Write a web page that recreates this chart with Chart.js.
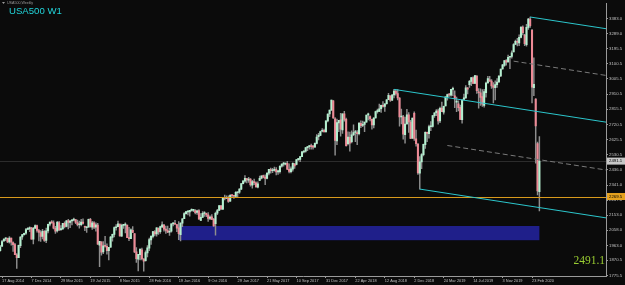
<!DOCTYPE html>
<html><head><meta charset="utf-8">
<script src="https://cdn.jsdelivr.net/npm/chart.js@4.4.1/dist/chart.umd.min.js"></script>
<style>html,body{margin:0;padding:0;background:#0b0b0b;overflow:hidden}</style>
</head><body>
<canvas id="c" width="625" height="285"></canvas>
<script>
// Weekly bars, index 0 = week of 10 Aug 2014, index 293 = week of 22 Mar 2020
const opens = [1931,1958,1991,2004,2007,1985,2009,1981,1968,1905,1887,1962,2017,2031,2040,2064,2066,2074,2002,2071,2088,
2056,2043,2020,2052,1994,2054,2096,2109,2104,2071,2054,2107,2062,2066,2101,2082,2117,2108,2116,2122,2125,2107,2093,2093,2110,2083,2074,2078,2127,2078,2104,2077,2090,1965,1986,1922,1960,1958,1930,1953,2014,2032,2074,2080,2097,2022,2089,2090,2091,2011,2006,2058,
2038,1923,1878,1906,1936,1878,1868,1917,1946,1998,2020,2048,2035,2071,2049,2079,2091,2065,2056,2046,2052,2098,2099,2094,2074,2030,2102,2131,2162,2173,2173,2183,2183,2182,2170,2181,2120,2139,2163,2165,2155,2132,2142,2127,2100,2165,2183,2211,2190,2259,2258,2264,
2240,2276,2272,2270,2293,2297,2316,2350,2366,2382,2372,2378,2340,2362,2355,2328,2370,2384,2400,2391,2382,2415,2438,2431,2433,2438,2424,2425,2459,2472,2472,2477,2440,2425,2440,2474,2470,2500,2501,2519,2548,2553,2575,2581,2588,2581,2579,2602,2644,2652,2678,2683,
2674,2743,2786,2810,2868,2755,2618,2730,2749,2686,2787,2752,2600,2640,2612,2657,2670,2670,2663,2727,2715,2721,2735,2780,2770,2752,2717,2762,2801,2802,2819,2840,2833,2850,2876,2900,2872,2905,2930,2914,2886,2767,2768,2657,2724,2780,2736,2634,2790,2630,2598,2415,2486,
2531,2594,2668,2663,2706,2708,2776,2795,2805,2742,2823,2798,2836,2892,2908,2904,2940,2900,2860,2850,2828,2750,2877,2887,2950,2970,2990,3013,2978,3024,2920,2918,2895,2840,2920,2980,3000,2992,2962,2950,2970,2986,3024,3068,3090,3120,3112,3141,3146,3175,3222,3240,
3230,3265,3330,3280,3220,3328,3380,3310,2950,2880,2600,2300];
const highs = [1964,1995,2005,2011,2010,2019,2009,1986,1977,1912,1965,2018,2033,2041,2071,2075,2079,2076,2077,2093,2091,
2064,2056,2064,2057,2072,2097,2110,2119,2117,2083,2114,2114,2088,2102,2111,2120,2126,2120,2124,2134,2126,2122,2115,2126,2130,2085,2081,2129,2133,2114,2112,2105,2102,1989,1986,1988,2020,1974,1952,2020,2034,2079,2094,2116,2097,2097,2095,2104,2091,2076,2068,2081,
2038,1950,1908,1940,1947,1881,1930,1963,2009,2022,2052,2056,2075,2073,2085,2111,2096,2084,2085,2071,2100,2104,2121,2096,2113,2104,2131,2169,2175,2178,2183,2193,2188,2187,2184,2187,2163,2175,2175,2166,2169,2148,2156,2133,2172,2189,2213,2214,2260,2278,2274,2273,
2282,2279,2276,2300,2299,2319,2351,2367,2401,2383,2390,2382,2370,2379,2361,2361,2398,2399,2404,2405,2418,2440,2447,2446,2453,2450,2434,2463,2474,2484,2478,2490,2474,2456,2480,2475,2500,2509,2520,2552,2557,2575,2582,2588,2597,2590,2605,2657,2665,2679,2695,2692,
2743,2787,2810,2873,2870,2763,2754,2747,2790,2787,2802,2761,2674,2672,2680,2718,2683,2682,2733,2743,2742,2736,2779,2791,2774,2754,2763,2804,2816,2848,2841,2863,2850,2876,2916,2900,2909,2941,2940,2939,2889,2817,2778,2767,2815,2795,2746,2760,2800,2685,2601,2520,2538,
2597,2675,2672,2716,2738,2776,2793,2814,2816,2830,2860,2836,2893,2910,2916,2940,2954,2931,2892,2868,2841,2876,2910,2964,2951,2996,3014,3018,3028,3027,2945,2943,2939,2940,2985,3021,3022,3002,2983,2993,3008,3027,3067,3097,3120,3127,3154,3146,3182,3226,3248,3259,
3282,3331,3337,3285,3347,3385,3393,3316,3137,2882,2610,2645];
const lows = [1928,1955,1988,1993,1980,1978,1965,1926,1905,1820,1886,1950,2001,2028,2033,2062,2049,2002,1972,2069,2046,
1992,1988,2004,1989,1980,2041,2085,2103,2066,2039,2046,2056,2057,2064,2073,2079,2067,2074,2092,2117,2099,2085,2072,2085,2097,2056,2044,2077,2077,2063,2068,2052,1970,1831,1903,1911,1953,1909,1872,1951,1990,2017,2059,2080,2022,2019,2070,2042,2012,1993,2005,2043,
1918,1857,1804,1872,1872,1802,1865,1891,1931,1969,2010,2023,2022,2033,2039,2075,2052,2039,2043,2026,2047,2085,2095,2050,2000,1991,2081,2131,2159,2155,2147,2177,2175,2160,2157,2127,2119,2139,2145,2144,2114,2124,2125,2083,2028,2156,2183,2187,2187,2248,2258,2233,
2238,2263,2258,2262,2268,2289,2313,2348,2358,2354,2358,2335,2322,2344,2328,2323,2368,2379,2386,2344,2380,2405,2415,2418,2428,2405,2407,2415,2453,2459,2467,2437,2417,2417,2428,2446,2468,2496,2488,2519,2542,2547,2557,2566,2566,2566,2578,2598,2624,2651,2673,2673,
2673,2736,2769,2808,2759,2529,2594,2675,2647,2665,2741,2585,2593,2553,2605,2650,2612,2594,2655,2701,2707,2676,2735,2749,2743,2691,2699,2760,2791,2801,2796,2829,2802,2848,2875,2864,2869,2886,2903,2874,2710,2724,2628,2603,2722,2670,2631,2631,2621,2584,2408,2316,2443,
2524,2570,2612,2634,2681,2703,2764,2775,2722,2732,2800,2785,2836,2873,2896,2898,2900,2825,2801,2805,2750,2729,2873,2883,2912,2952,2963,2975,2976,2914,2822,2840,2834,2828,2891,2979,2990,2946,2855,2874,2952,2984,3020,3066,3084,3091,3110,3070,3135,3175,3222,3212,
3214,3262,3281,3214,3210,3315,3328,2855,2901,2478,2280,2180];
const closes = [1955,1988,2003,2008,1986,2010,1983,1968,1906,1887,1964,2016,2031,2039,2063,2067,2075,2002,2070,2088,2058,
2044,2019,2051,1995,2055,2096,2110,2104,2071,2053,2108,2061,2067,2102,2081,2118,2108,2116,2123,2126,2107,2093,2094,2110,2101,2077,2077,2127,2080,2104,2078,2092,1971,1989,1921,1961,1958,1931,1951,2015,2033,2075,2079,2099,2023,2089,2090,2092,2012,2006,2061,2044,
1922,1880,1907,1940,1880,1865,1918,1948,2000,2022,2050,2036,2073,2048,2081,2092,2065,2057,2047,2052,2099,2099,2096,2071,2037,2103,2130,2162,2175,2174,2183,2184,2184,2169,2180,2128,2139,2165,2168,2154,2133,2141,2126,2085,2164,2182,2213,2192,2260,2258,2264,2239,
2277,2275,2271,2295,2297,2316,2351,2367,2383,2373,2378,2344,2363,2356,2329,2349,2384,2399,2391,2382,2416,2439,2432,2433,2438,2423,2425,2459,2473,2472,2477,2441,2426,2443,2477,2461,2500,2502,2519,2549,2553,2575,2581,2588,2582,2579,2602,2642,2652,2676,2683,2674,
2743,2786,2810,2873,2762,2620,2732,2747,2691,2787,2752,2588,2641,2604,2656,2670,2670,2663,2728,2713,2721,2735,2779,2780,2755,2718,2760,2801,2802,2819,2840,2833,2850,2875,2902,2872,2905,2930,2914,2886,2767,2768,2659,2723,2781,2736,2633,2760,2633,2600,2417,2486,2532,
2596,2671,2665,2707,2708,2776,2793,2804,2743,2822,2801,2834,2893,2907,2905,2940,2946,2881,2860,2826,2752,2873,2887,2950,2942,2990,3014,2977,3026,2932,2919,2889,2847,2926,2979,3007,2992,2962,2952,2970,2986,3023,3067,3093,3120,3110,3141,3146,3169,3221,3240,3235,
3265,3330,3295,3226,3328,3380,3338,2954,2972,2711,2305,2491.1];

const xTickIndex = [1,17,33,49,65,81,97,113,129,145,161,177,193,209,225,241,257,273,289];
const xTickLabels = ['17 Aug 2014','7 Dec 2014','29 Mar 2015','19 Jul 2015','8 Nov 2015','28 Feb 2016','19 Jun 2016','9 Oct 2016','29 Jan 2017','21 May 2017','10 Sep 2017','31 Dec 2017','22 Apr 2018','12 Aug 2018','2 Dec 2018','24 Mar 2019','14 Jul 2019','3 Nov 2019','23 Feb 2020'];
const yTickValues = [3383.0,3289.0,3195.5,3100.5,3005.5,2910.5,2815.5,2720.5,2625.5,2530.5,2436.0,2341.0,2247.0,2153.0,2058.0,1963.0,1870.5,1775.5];

const bidPrice = 2491.1;
const hLinePrice = 2269.5;
const zone = {from: 97, to: 293, top: 2085, bottom: 1996};
const forkAnchors = [[214, 2940], [228, 2316], [288, 3393]];
const forkSlope = -1.78;          // price per bar
const forkMidStarts = [243, 279]; // dashed half-lines (lower, upper)

const upBody = '#b4f0d0', downBody = '#ee8a96', wickCol = '#8e8e8e';
const isUp = closes.map((c,i)=> c >= opens[i]);

const chartPlugin = {
  id: 'mt4',
  beforeDraw(chart){
    const c = chart.ctx; c.save(); c.fillStyle = '#0b0b0b'; c.fillRect(0,0,chart.width,chart.height); c.restore();
  },
  beforeDatasetsDraw(chart){
    const {ctx, scales:{x,y}} = chart;
    ctx.save();
    ctx.fillStyle = '#1f1f8a';
    const x0 = x.getPixelForValue(zone.from), x1 = x.getPixelForValue(zone.to);
    const y0 = y.getPixelForValue(zone.top), y1 = y.getPixelForValue(zone.bottom);
    ctx.fillRect(x0, y0, x1-x0, y1-y0);
    // bid line (background)
    const a = chart.chartArea;
    ctx.strokeStyle = '#2c2c2c'; ctx.lineWidth = 1;
    const py = Math.round(y.getPixelForValue(bidPrice))+0.5;
    ctx.beginPath(); ctx.moveTo(a.left,py); ctx.lineTo(a.right,py); ctx.stroke();
    ctx.restore();
  },
  afterDatasetsDraw(chart){
    const {ctx, chartArea:a, scales:{x,y}} = chart;
    ctx.save();
    ctx.beginPath(); ctx.rect(a.left, a.top, a.right-a.left, a.bottom-a.top); ctx.clip();
    // horizontal orange line
    ctx.strokeStyle = '#d99a1c'; ctx.lineWidth = 1;
    const py = Math.round(y.getPixelForValue(hLinePrice))+0.5;
    ctx.beginPath(); ctx.moveTo(a.left,py); ctx.lineTo(a.right,py); ctx.stroke();
    // pitchfork
    const xEnd = x.max;
    const val = (an, i) => an[1] + forkSlope*(i - an[0]);
    ctx.strokeStyle = '#2cc6cc'; ctx.lineWidth = 1;
    forkAnchors.forEach(an => {
      ctx.beginPath();
      ctx.moveTo(x.getPixelForValue(an[0]), y.getPixelForValue(an[1]));
      ctx.lineTo(x.getPixelForValue(xEnd), y.getPixelForValue(val(an, xEnd)));
      ctx.stroke();
    });
    ctx.strokeStyle = '#7a7a7a'; ctx.setLineDash([5,3]);
    const mids = [[forkAnchors[0], forkAnchors[1], forkMidStarts[0]], [forkAnchors[0], forkAnchors[2], forkMidStarts[1]]];
    mids.forEach(([p,q,s]) => {
      ctx.beginPath();
      ctx.moveTo(x.getPixelForValue(s), y.getPixelForValue((val(p,s)+val(q,s))/2));
      ctx.lineTo(x.getPixelForValue(xEnd), y.getPixelForValue((val(p,xEnd)+val(q,xEnd))/2));
      ctx.stroke();
    });
    ctx.restore();
  },
  afterDraw(chart){
    const {ctx, chartArea:a, scales:{y}} = chart;
    ctx.save();
    const box = (price, bg, fg) => {
      const py = y.getPixelForValue(price);
      ctx.fillStyle = bg; ctx.fillRect(a.right+1, py-3.5, 18, 7);
      ctx.fillStyle = fg; ctx.font = '4.3px "Liberation Sans", Arial'; ctx.textAlign='left'; ctx.textBaseline='middle';
      ctx.fillText(price.toFixed(1), a.right+3, py);
    };
    box(bidPrice, '#c8c8c8', '#000');
    box(hLinePrice, '#e6a21e', '#000');
    // header texts
    ctx.fillStyle = '#9a9a9a';
    ctx.beginPath(); ctx.moveTo(2,2); ctx.lineTo(5,2); ctx.lineTo(3.5,4); ctx.closePath(); ctx.fill();
    ctx.font = '3.6px "Liberation Sans", Arial'; ctx.textAlign='left'; ctx.textBaseline='alphabetic';
    ctx.fillText('USA500,Weekly', 7, 4);
    ctx.fillStyle = '#22d4da'; ctx.font = '9.6px "Liberation Sans", Arial';
    ctx.fillText('USA500 W1', 9, 13.5);
    ctx.fillStyle = '#9acd32'; ctx.font = '11.5px "Liberation Serif", serif'; ctx.textAlign='right';
    ctx.fillText(bidPrice.toFixed(1), 605, 263.5);
    ctx.restore();
  }
};

new Chart(document.getElementById('c'), {
  type: 'bar',
  data: {
    datasets: [
      {
        label: 'bodies',
        data: opens.map((o,i)=>({x:i, y:[o, closes[i]]})),
        backgroundColor: isUp.map(u => u ? upBody : downBody),
        barThickness: 1.4, grouped: false, minBarLength: 1, order: 1
      },
      {
        label: 'wicks',
        data: opens.map((o,i)=>({x:i, y:[lows[i], highs[i]]})),
        backgroundColor: wickCol,
        barThickness: 0.8, grouped: false, order: 2
      }
    ]
  },
  options: {
    responsive: false, animation: false, devicePixelRatio: 1,
    layout: {padding: 0},
    plugins: {legend: {display:false}, tooltip: {enabled:false}},
    scales: {
      x: {
        type: 'linear', min: -0.109, max: 329.2, offset: false,
        grid: {display: true, offset: false, drawOnChartArea: false, drawTicks: true, tickLength: 2, color: '#9a9a9a'},
        border: {display: true, color: '#9a9a9a'},
        afterBuildTicks: (ax) => { ax.ticks = xTickIndex.map(v => ({value: v})); },
        afterFit: (ax) => { ax.height = 9; },
        ticks: {
          autoSkip: false, maxRotation: 0, align: 'start', padding: 0.5,
          color: '#c0c0c0', font: {size: 3.9, family: '"Liberation Sans", Arial'},
          callback: (v) => xTickLabels[xTickIndex.indexOf(v)]
        }
      },
      y: {
        position: 'right', min: 1772, max: 3477,
        grid: {display: true, drawOnChartArea: false, drawTicks: true, tickLength: 2, color: '#9a9a9a'},
        border: {display: true, color: '#9a9a9a'},
        afterBuildTicks: (ax) => { ax.ticks = yTickValues.map(v => ({value: v})); },
        afterFit: (ax) => { ax.width = 19; },
        ticks: {
          autoSkip: false, padding: 1,
          color: '#c0c0c0', font: {size: 4.3, family: '"Liberation Sans", Arial'},
          callback: (v) => Number(v).toFixed(1)
        }
      }
    }
  },
  plugins: [chartPlugin]
});
</script>
</body></html>
